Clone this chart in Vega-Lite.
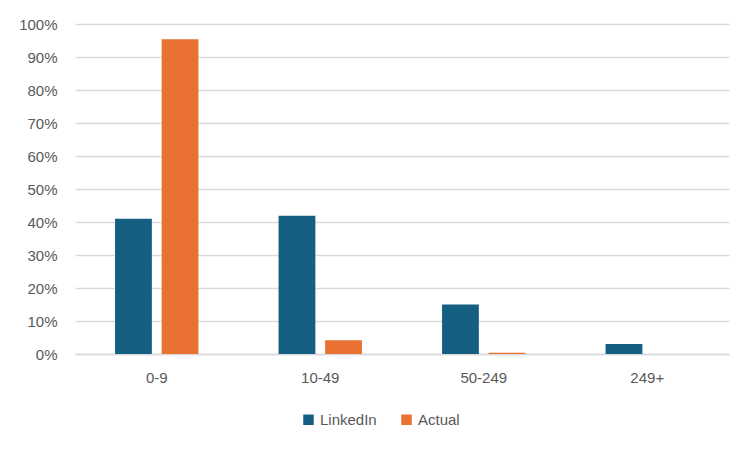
{
  "$schema": "https://vega.github.io/schema/vega-lite/v6.json",
  "width": 654,
  "height": 330,
  "autosize": {"type": "none"},
  "padding": {"left": 75, "top": 24, "right": 23, "bottom": 98},
  "background": "white",
  "data": {
    "values": [
      {"size": "0-9", "source": "LinkedIn", "share": 0.41},
      {"size": "0-9", "source": "Actual", "share": 0.954},
      {"size": "10-49", "source": "LinkedIn", "share": 0.419},
      {"size": "10-49", "source": "Actual", "share": 0.042},
      {"size": "50-249", "source": "LinkedIn", "share": 0.15},
      {"size": "50-249", "source": "Actual", "share": 0.004},
      {"size": "249+", "source": "LinkedIn", "share": 0.03},
      {"size": "249+", "source": "Actual", "share": 0.0}
    ]
  },
  "mark": {"type": "bar"},
  "encoding": {
    "x": {
      "field": "size", "type": "nominal", "sort": ["0-9", "10-49", "50-249", "249+"],
      "scale": {"paddingInner": 0.49, "paddingOuter": 0.245},
      "axis": {"title": null, "labelAngle": 0, "ticks": false, "labelPadding": 16, "domainColor": "#d9d9d9", "domainWidth": 1.5, "grid": false}
    },
    "xOffset": {
      "field": "source", "type": "nominal", "sort": ["LinkedIn", "Actual"],
      "scale": {"paddingInner": 0.21}
    },
    "y": {
      "field": "share", "type": "quantitative",
      "scale": {"domain": [0, 1], "nice": false},
      "axis": {"title": null, "format": ".0%", "values": [0,0.1,0.2,0.3,0.4,0.5,0.6,0.7,0.8,0.9,1], "domain": false, "ticks": false, "labelPadding": 18, "gridColor": "#d9d9d9", "gridWidth": 1.5}
    },
    "color": {
      "field": "source", "type": "nominal", "sort": ["LinkedIn", "Actual"],
      "scale": {"domain": ["LinkedIn", "Actual"], "range": ["#156082", "#E97132"]},
      "legend": {"title": null, "orient": "none", "legendX": 226, "legendY": 388, "direction": "horizontal", "symbolType": "square", "symbolSize": 110, "symbolStrokeWidth": 0, "columnPadding": 22, "labelOffset": 4}
    }
  },
  "config": {
    "view": {"stroke": null},
    "font": "Liberation Sans",
    "axis": {"labelFont": "Liberation Sans", "labelFontSize": 15, "labelColor": "#595959"},
    "legend": {"labelFont": "Liberation Sans", "labelFontSize": 15, "labelColor": "#595959"}
  }
}
